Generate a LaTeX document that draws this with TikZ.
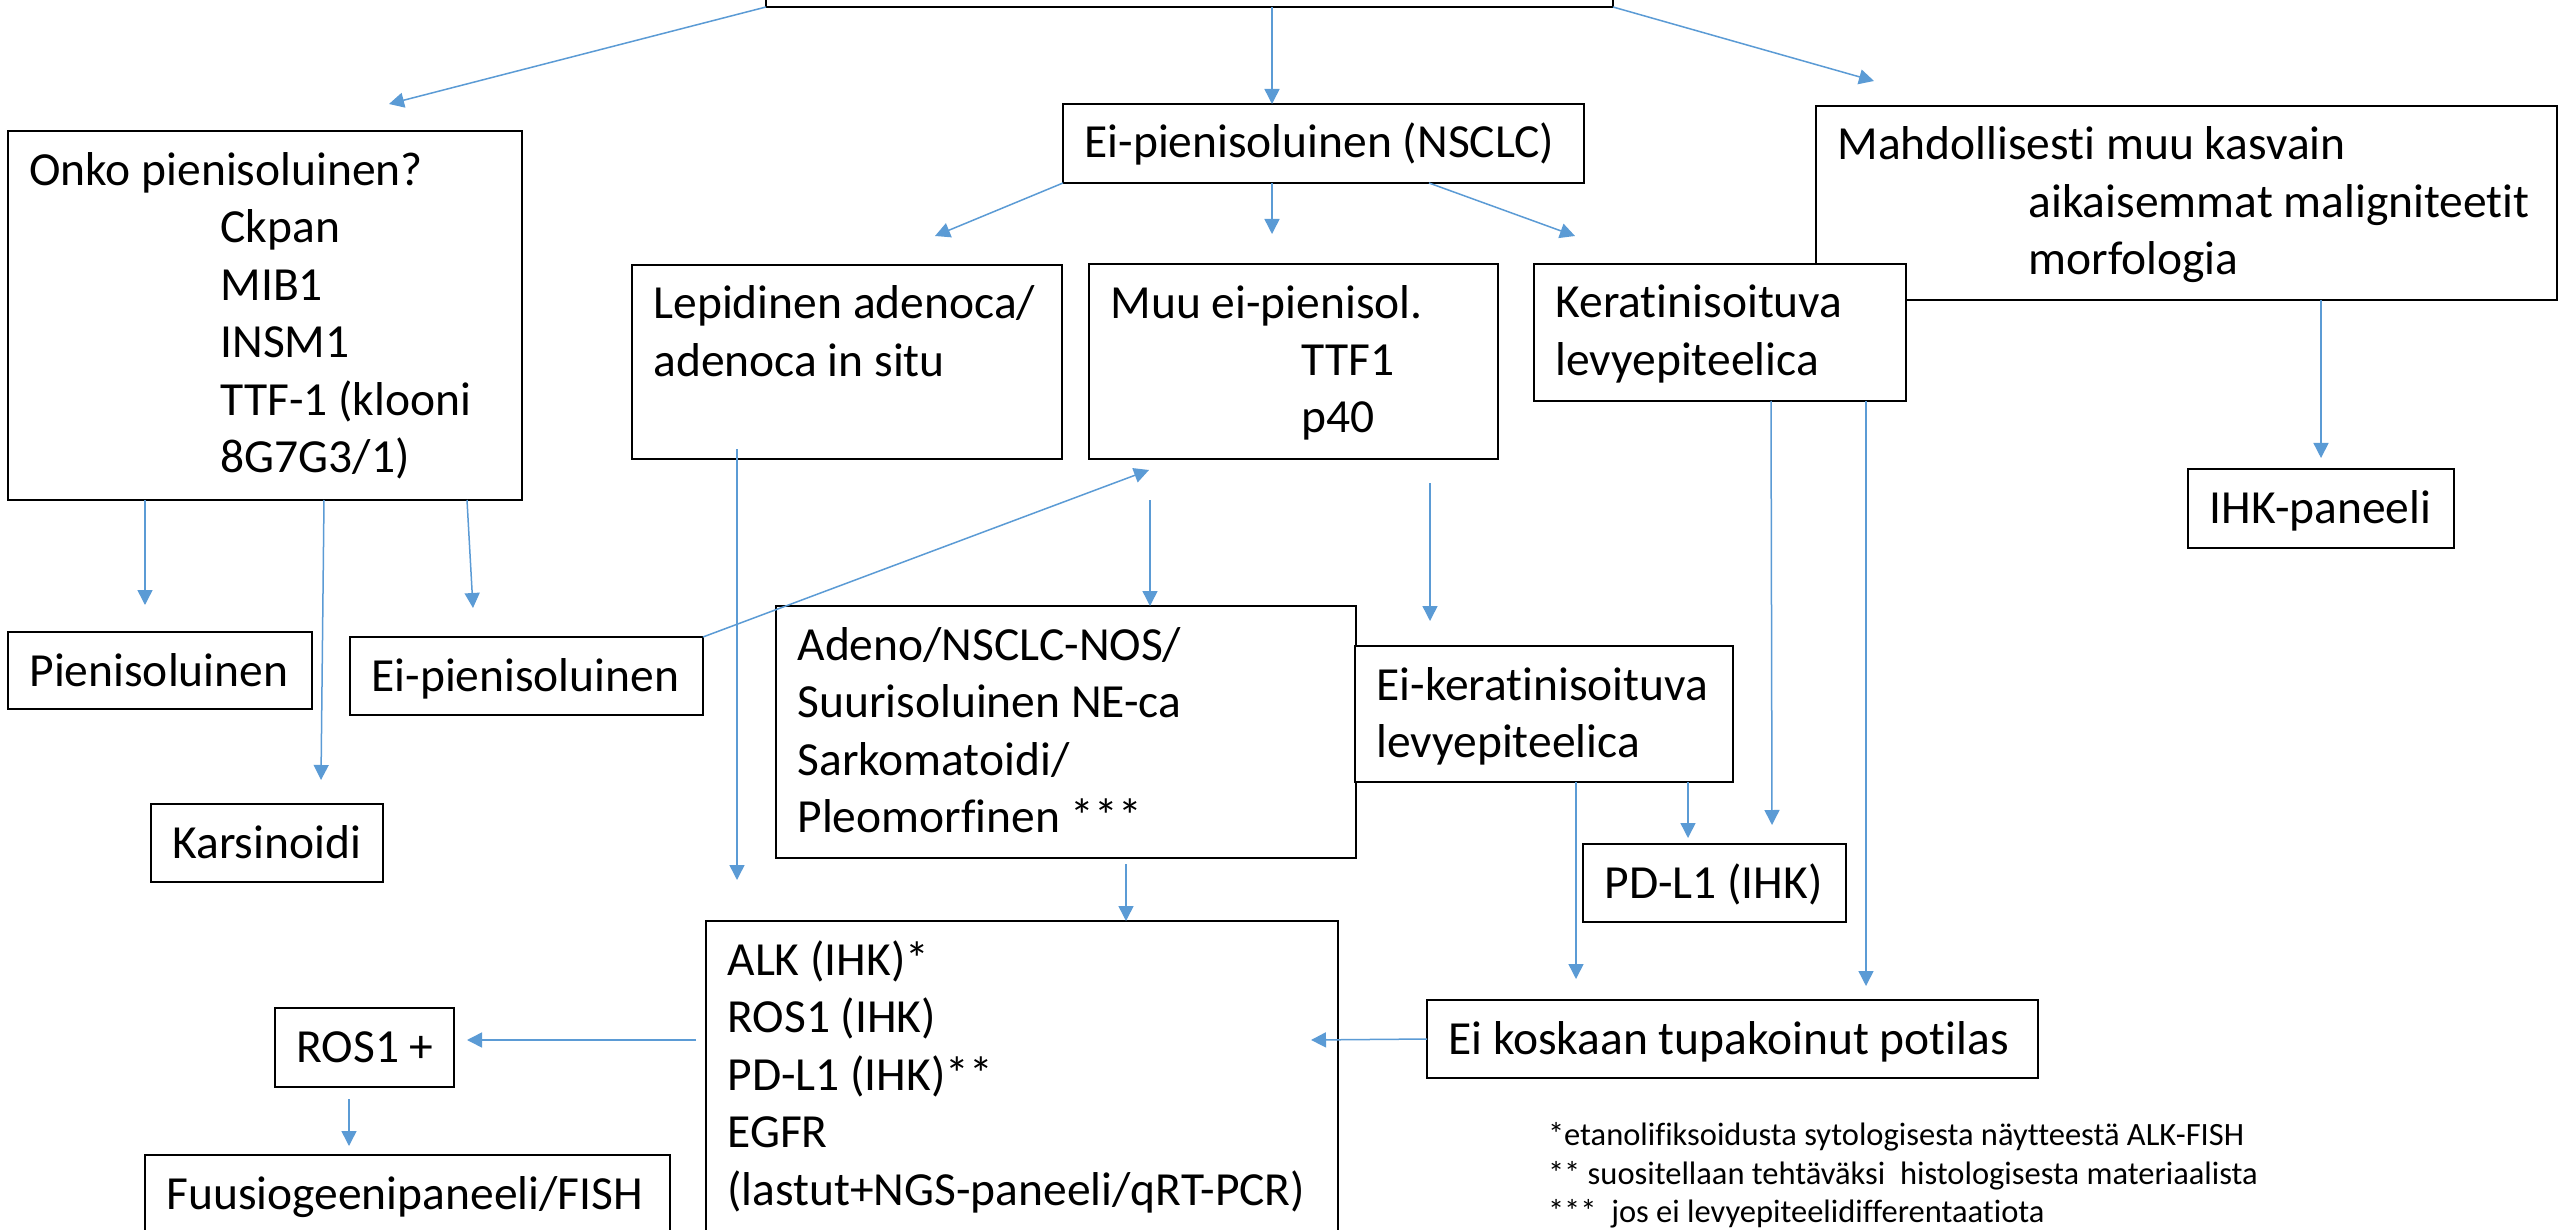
\documentclass[tikz,border=0pt]{standalone}
\usepackage{fontspec}
\setmainfont{Carlito}[Ligatures={NoCommon}]
\usetikzlibrary{arrows.meta,calc}
\definecolor{linkblue}{RGB}{91,155,213}
\newcommand\bodyfont{\fontsize{47.5}{57.5}\selectfont}
\newcommand\notefont{\fontsize{32.5}{38.5}\selectfont}
\newcommand\ind{\hspace*{191pt}}
\tikzset{
 box/.style={draw=black, line width=2.4pt, fill=white, rectangle, anchor=north west, inner sep=0pt, outer sep=0pt},
 boxtext/.style={anchor=north west, inner sep=0pt, outer sep=0pt, align=left, font=\bodyfont},
 conn/.style={draw=linkblue, line width=1.5pt, -{Triangle[length=15pt,width=15pt]}},
}
\newcommand\mkbox[6]{%
 \node[box, minimum width=#4pt, minimum height=#5pt] (#1) at (#2,#3) {};
 \node[boxtext] (#1-txt) at ([shift={(21.5pt,-13.75pt)}]#1.north west) {\strut #6};
}
\begin{document}
\begin{tikzpicture}[x=1pt,y=-1pt]
\useasboundingbox (0,0) rectangle (2560,1230);
\fill[white] (0,0) rectangle (2560,1230);
\clip (0,0) rectangle (2560,1230);

% boxes
\mkbox{top}{766}{-60}{847}{67}{}
\mkbox{onko}{8}{131}{514}{369}{Onko pienisoluinen?\\ \ind Ckpan\\ \ind MIB1\\ \ind INSM1\\ \ind TTF-1 (klooni\\ \ind 8G7G3/1)}
\mkbox{nsclc}{1063}{104}{521}{79}{Ei-pienisoluinen (NSCLC)}
\mkbox{mahd}{1816}{106}{741}{194}{Mahdollisesti muu kasvain\\ \ind aikaisemmat maligniteetit\\ \ind morfologia}
\mkbox{lep}{632}{265}{430}{194}{Lepidinen adenoca/\\ adenoca in situ}
\mkbox{muu}{1089}{264}{409}{195}{Muu ei-pienisol.\\ \ind TTF1\\ \ind p40}
\mkbox{kerat}{1534}{264}{372}{137}{Keratinisoituva\\ levyepiteelica}
\mkbox{ihk}{2188}{469}{266}{79}{IHK-paneeli}
\mkbox{pien}{8}{632}{304}{77}{Pienisoluinen}
\mkbox{eipien}{350}{637}{353}{78}{Ei-pienisoluinen}
\mkbox{kars}{151}{804}{232}{78}{Karsinoidi}
\mkbox{adeno}{776}{606}{580}{252}{Adeno/NSCLC-NOS/\\ Suurisoluinen NE-ca\\ Sarkomatoidi/\\ Pleomorfinen ***}
\mkbox{eikerat}{1355}{646}{378}{136}{Ei-keratinisoituva\\ levyepiteelica}
\mkbox{pdl1}{1583}{844}{263}{78}{PD-L1 (IHK)}
\mkbox{alk}{706}{921}{632}{339}{ALK (IHK)*\\ ROS1 (IHK)\\ PD-L1 (IHK)**\\ EGFR\\ (lastut+NGS-paneeli/qRT-PCR)}
\mkbox{eikosk}{1427}{1000}{611}{78}{Ei koskaan tupakoinut potilas}
\mkbox{ros1}{275}{1008}{179}{79}{ROS1 +}
\mkbox{fuus}{145}{1155}{525}{105}{Fuusiogeenipaneeli/FISH}

% footnotes
\node[anchor=north west, inner sep=0pt, outer sep=0pt, align=left, font=\notefont] (notes) at (1548,1119)
 {\strut*etanolifiksoidusta sytologisesta näytteestä ALK-FISH\\
  ** suositellaan tehtäväksi\ \ histologisesta materiaalista\\
  ***\ \ jos ei levyepiteelidifferentaatiota};

% free connector ends
\coordinate (onko-in) at (389,104);
\coordinate (mahd-in) at (1874,81);
\coordinate (lep-in) at (935,236);
\coordinate (muu-in) at (1272,234);
\coordinate (kerat-in) at (1575,236);
\coordinate (ihk-in) at (2321,458);
\coordinate (pien-in) at (145,605);
\coordinate (kars-in) at (321,780);
\coordinate (eipien-in) at (473,608);
\coordinate (muu-in2) at (1149,470);

% connectors
\draw[conn] (top.south west) -- (onko-in);
\draw[conn] (top.south -| 1272,0) -- (nsclc.north -| 1272,0);
\draw[conn] (top.south east) -- (mahd-in);
\draw[conn] (nsclc.south west) -- (lep-in);
\draw[conn] (nsclc.south -| muu-in) -- (muu-in);
\draw[conn] (nsclc.south -| 1429,0) -- (kerat-in);
\draw[conn] (mahd.south -| ihk-in) -- (ihk-in);
\draw[conn] (onko.south -| pien-in) -- (pien-in);
\draw[conn] (onko.south -| 324,0) -- (kars-in);
\draw[conn] (onko.south -| 467,0) -- (eipien-in);
\draw[conn] (eipien.north east) -- (muu-in2);
\draw[conn] ($(lep.south west)+(105,-10)$) -- ($(alk.north west)+(31,-41)$);
\draw[conn] ($(muu.south west)+(61,41)$) -- (adeno.north -| 1150,0);
\draw[conn] ($(muu.south west)+(341,24)$) -- ($(eikerat.north west)+(75,-25)$);
\draw[conn] (kerat.south -| 1771,0) -- ($(pdl1.north west)+(189,-19)$);
\draw[conn] (kerat.south -| 1866,0) -- ($(eikosk.north west)+(439,-14)$);
\draw[conn] (eikerat.south -| 1688,0) -- ($(pdl1.north west)+(105,-6)$);
\draw[conn] (eikerat.south -| 1576,0) -- ($(eikosk.north west)+(149,-21)$);
\draw[conn] ($(eikosk.north west)+(0,39)$) -- ($(alk.north east)+(-27,119)$);
\draw[conn] ($(adeno.south west)+(350,6)$) -- (alk.north -| 1126,0);
\draw[conn] ($(alk.north west)+(-10,119)$) -- ($(ros1.north east)+(13,32)$);
\draw[conn] ($(ros1.south west)+(74,12)$) -- ($(fuus.north west)+(204,-9)$);
\end{tikzpicture}
\end{document}
